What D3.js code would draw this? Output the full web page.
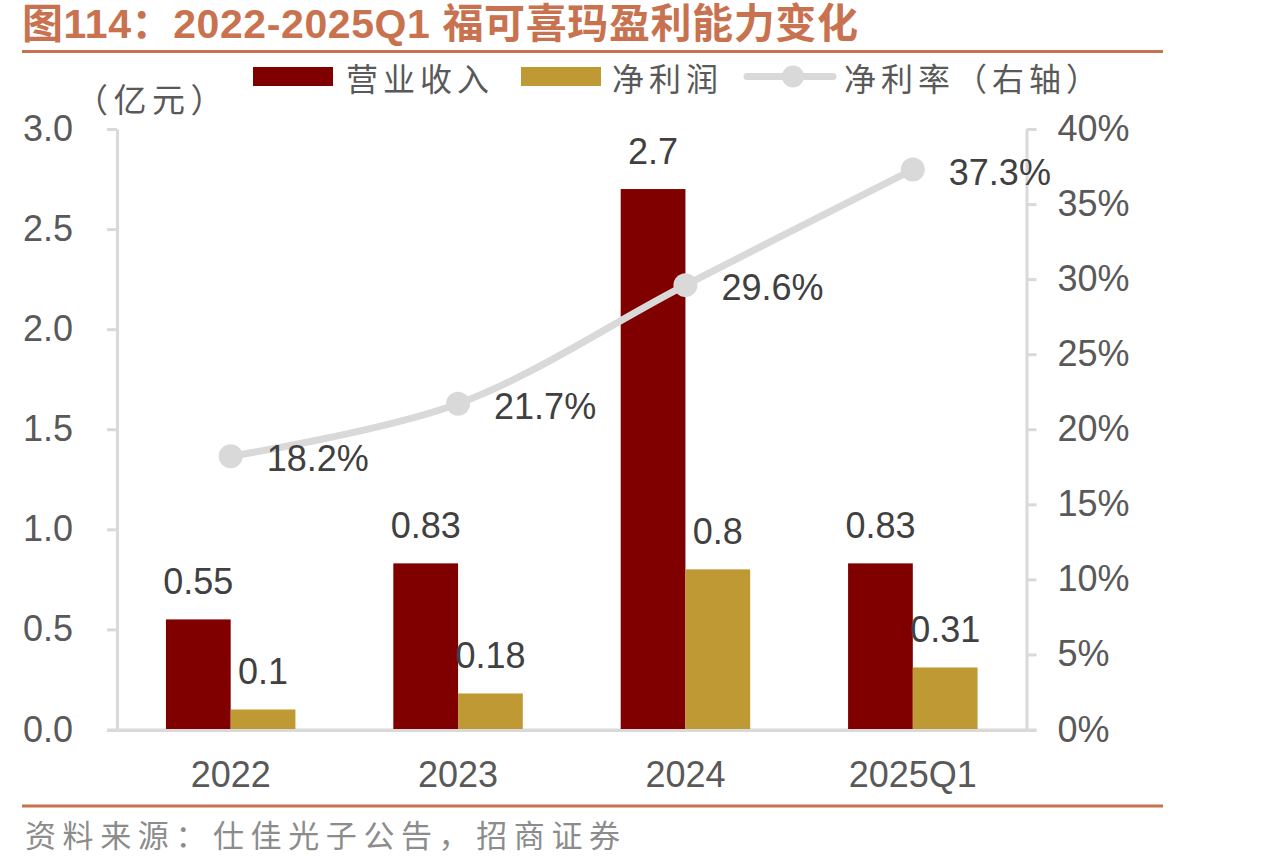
<!DOCTYPE html>
<html>
<head>
<meta charset="utf-8">
<script src="https://cdn.jsdelivr.net/npm/d3@7/dist/d3.min.js"></script>
<style>
  html, body { margin: 0; padding: 0; background: #fff; }
  svg { display: block; }
</style>
</head>
<body>
<svg id="chart" width="1270" height="866"></svg>
<script>
// ---- data ----
const categories = ["2022", "2023", "2024", "2025Q1"];
const revenue = [0.55, 0.83, 2.7, 0.83];      // 营业收入（亿元）
const netProfit = [0.1, 0.18, 0.8, 0.31];     // 净利润（亿元）
const netMargin = [0.182, 0.217, 0.296, 0.373]; // 净利率（右轴）
const leftTicks = [0, 0.5, 1.0, 1.5, 2.0, 2.5, 3.0];
const rightTicks = [0, 0.05, 0.10, 0.15, 0.20, 0.25, 0.30, 0.35, 0.40];
const seriesNames = ["营业收入", "净利润", "净利率（右轴）"];
const titleText = "图114：2022-2025Q1 福可喜玛盈利能力变化";
const unitText = "（亿元）";
const sourceText = "资料来源：仕佳光子公告，招商证券";

// ---- style ----
const C_REV = "#800000", C_PROF = "#BF9A34", C_LINE = "#D9D9D9";
const C_AXIS = "#D9D9D9", C_TICK = "#595959", C_LABEL = "#404040";
const C_TITLE = "#C8724F", C_SRC = "#8C8C8C";
const LATIN = "'Liberation Sans', Arial, sans-serif";
const CJK = "'Noto Sans CJK SC', 'Liberation Sans', sans-serif";

const svg = d3.select("#chart");

// ---- scales ----
const x0 = d3.scaleBand().domain(categories).range([117, 1026.5]).padding(0);
const x1 = d3.scaleBand().domain(["rev", "prof"]).range([0, x0.bandwidth()]).paddingInner(0).paddingOuter(0.756);
const yL = d3.scaleLinear().domain([0, 3]).range([729.5, 129]);
const yR = d3.scaleLinear().domain([0, 0.4]).range([729.5, 129]);

// ---- title ----
svg.append("text")
  .attr("x", 22).attr("y", 38)
  .attr("font-family", "'Liberation Sans', 'Noto Sans CJK SC', sans-serif")
  .attr("font-weight", "bold").attr("font-size", 41).attr("letter-spacing", 0.6)
  .attr("fill", C_TITLE)
  .text(titleText);
svg.append("line").attr("x1", 22).attr("x2", 1163).attr("y1", 51.5).attr("y2", 51.5)
  .attr("stroke", C_TITLE).attr("stroke-width", 3);
svg.append("line").attr("x1", 22).attr("x2", 1163).attr("y1", 806).attr("y2", 806)
  .attr("stroke", C_TITLE).attr("stroke-width", 3);

// source
svg.append("text").attr("x", 25).attr("y", 833)
  .attr("dominant-baseline", "central")
  .attr("font-family", CJK).attr("font-size", 31).attr("letter-spacing", 6.6)
  .attr("fill", C_SRC).text(sourceText);

// unit
svg.append("text").attr("x", 75).attr("y", 98)
  .attr("dominant-baseline", "central")
  .attr("font-family", CJK).attr("font-size", 33).attr("letter-spacing", 5.5)
  .attr("fill", C_TICK).text(unitText);

// ---- legend ----
const lg = svg.append("g").attr("class", "legend");
const legendItems = [
  { name: seriesNames[0], type: "rect", color: C_REV, x: 253, tx: 346 },
  { name: seriesNames[1], type: "rect", color: C_PROF, x: 521, tx: 612 },
  { name: seriesNames[2], type: "line", color: C_LINE, x: 747, tx: 844 }
];
legendItems.forEach(d => {
  if (d.type === "rect") {
    lg.append("rect").attr("x", d.x).attr("y", 67).attr("width", 80).attr("height", 19).attr("fill", d.color);
  } else {
    lg.append("line").attr("x1", d.x).attr("x2", d.x + 86).attr("y1", 76.5).attr("y2", 76.5)
      .attr("stroke", d.color).attr("stroke-width", 7).attr("stroke-linecap", "round");
    lg.append("circle").attr("cx", d.x + 46).attr("cy", 76.5).attr("r", 11).attr("fill", d.color);
  }
  lg.append("text").attr("x", d.tx).attr("y", 77).attr("dominant-baseline", "central")
    .attr("font-family", CJK).attr("font-size", 32).attr("letter-spacing", 5)
    .attr("fill", C_TICK).text(d.name);
});

// ---- axes ----
const axL = svg.append("g").attr("transform", "translate(117,0)")
  .call(d3.axisLeft(yL).tickValues(leftTicks).tickFormat(d3.format(".1f")).tickSize(10).tickSizeOuter(0).tickPadding(34));
const axR = svg.append("g").attr("transform", "translate(1026.5,0)")
  .call(d3.axisRight(yR).tickValues(rightTicks).tickFormat(d3.format(".0%")).tickSize(10).tickSizeOuter(0).tickPadding(21));
const axB = svg.append("g").attr("transform", "translate(0,729.5)")
  .call(d3.axisBottom(x0).tickSize(0).tickSizeOuter(0).tickPadding(32));
[axL, axR, axB].forEach(a => {
  a.selectAll("path.domain").attr("stroke", C_AXIS).attr("stroke-width", 3);
  a.selectAll(".tick line").attr("stroke", C_AXIS).attr("stroke-width", 3);
  a.selectAll(".tick text").attr("font-family", LATIN).attr("font-size", 36).attr("fill", C_TICK);
});

// ---- bars ----
const barData = categories.map((c, i) => [
  { cat: c, key: "rev", v: revenue[i], color: C_REV },
  { cat: c, key: "prof", v: netProfit[i], color: C_PROF }
]).flat();

const gBars = svg.append("g");
gBars.selectAll("rect").data(barData).join("rect")
  .attr("x", d => x0(d.cat) + x1(d.key))
  .attr("y", d => yL(d.v))
  .attr("width", x1.bandwidth())
  .attr("height", d => yL(0) - yL(d.v) + 1.5)
  .attr("fill", d => d.color);

// re-draw bottom axis line on top of bars
svg.append("line").attr("x1", 107).attr("x2", 1036.5).attr("y1", 730.5).attr("y2", 730.5)
  .attr("stroke", C_AXIS).attr("stroke-width", 3);

// ---- line ----
const linePts = categories.map((c, i) => ({ x: x0(c) + x0.bandwidth() / 2, y: yR(netMargin[i]), v: netMargin[i] }));
svg.append("path").datum(linePts)
  .attr("d", d3.line().x(d => d.x).y(d => d.y).curve(d3.curveCatmullRom.alpha(0.5)))
  .attr("fill", "none").attr("stroke", C_LINE).attr("stroke-width", 7);
svg.append("g").selectAll("circle").data(linePts).join("circle")
  .attr("cx", d => d.x).attr("cy", d => d.y).attr("r", 12).attr("fill", C_LINE);

// ---- labels ----
svg.append("g").selectAll("text").data(barData).join("text")
  .attr("x", d => x0(d.cat) + x1(d.key) + x1.bandwidth() / 2)
  .attr("y", d => yL(d.v) - 25)
  .attr("text-anchor", "middle")
  .attr("font-family", LATIN).attr("font-size", 36).attr("fill", C_LABEL)
  .text(d => String(d.v));

svg.append("g").selectAll("text").data(linePts).join("text")
  .attr("x", d => d.x + 36)
  .attr("y", d => d.y + 15)
  .attr("font-family", LATIN).attr("font-size", 36).attr("fill", C_LABEL)
  .text(d => d3.format(".1%")(d.v));
</script>
</body>
</html>
